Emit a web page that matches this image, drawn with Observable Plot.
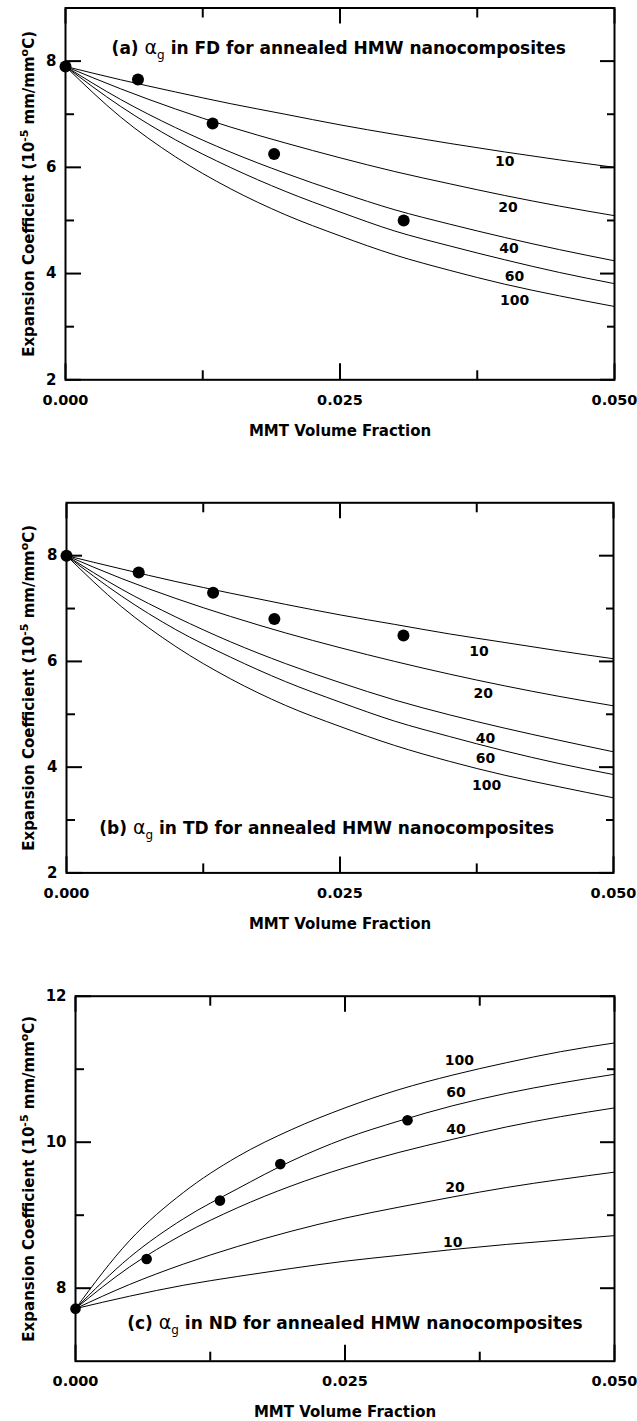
<!DOCTYPE html>
<html><head><meta charset="utf-8">
<script src="https://cdn.jsdelivr.net/npm/d3@7"></script>
<script src="https://cdn.jsdelivr.net/npm/@observablehq/plot@0.6"></script>
<style>
html,body{margin:0;padding:0;background:#fff;}
#chart{width:637px;}
#chart svg{display:block;}
</style></head><body><div id="chart"></div>
<script>
// ---- data ----
const volumeFraction = [0, 0.005, 0.01, 0.015, 0.02, 0.025, 0.03, 0.035, 0.04, 0.045, 0.05];
const aspectRatios = [10, 20, 40, 60, 100];

const fd10  = [7.9, 7.65, 7.42, 7.20, 7.00, 6.80, 6.62, 6.45, 6.29, 6.14, 6.00];
const fd20  = [7.9, 7.48, 7.10, 6.76, 6.46, 6.18, 5.92, 5.69, 5.47, 5.27, 5.09];
const fd40  = [7.9, 7.28, 6.75, 6.29, 5.89, 5.53, 5.20, 4.93, 4.68, 4.45, 4.24];
const fd60  = [7.9, 7.15, 6.52, 6.00, 5.55, 5.16, 4.80, 4.52, 4.26, 4.02, 3.81];
const fd100 = [7.9, 6.95, 6.20, 5.60, 5.11, 4.71, 4.35, 4.06, 3.80, 3.58, 3.38];

const td10  = [8.0, 7.75, 7.51, 7.29, 7.08, 6.88, 6.70, 6.52, 6.36, 6.20, 6.05];
const td20  = [8.0, 7.57, 7.19, 6.85, 6.54, 6.26, 6.00, 5.76, 5.54, 5.34, 5.16];
const td40  = [8.0, 7.37, 6.84, 6.37, 5.96, 5.60, 5.27, 4.99, 4.74, 4.51, 4.29];
const td60  = [8.0, 7.24, 6.60, 6.08, 5.62, 5.23, 4.87, 4.58, 4.31, 4.07, 3.86];
const td100 = [8.0, 7.04, 6.28, 5.67, 5.17, 4.77, 4.41, 4.11, 3.85, 3.63, 3.42];

const nd10  = [7.72, 7.89, 8.04, 8.16, 8.27, 8.37, 8.45, 8.53, 8.60, 8.66, 8.72];
const nd20  = [7.72, 8.05, 8.33, 8.57, 8.78, 8.96, 9.11, 9.25, 9.38, 9.49, 9.59];
const nd40  = [7.72, 8.29, 8.74, 9.10, 9.40, 9.65, 9.86, 10.04, 10.21, 10.35, 10.47];
const nd60  = [7.72, 8.42, 8.95, 9.36, 9.74, 10.05, 10.29, 10.50, 10.67, 10.81, 10.93];
const nd100 = [7.72, 8.65, 9.31, 9.80, 10.17, 10.47, 10.72, 10.92, 11.09, 11.24, 11.36];

const pointX   = [0, 0.0066, 0.0134, 0.019, 0.0308];
const fdPoints = [7.9, 7.655, 6.825, 6.25, 5.0];
const tdPoints = [8.0, 7.68, 7.30, 6.80, 6.49];
const ndPoints = [7.72, 8.40, 9.20, 9.70, 10.30];

const fdLabelX = [0.0400, 0.0403, 0.0404, 0.0409, 0.0409];
const fdLabelY = [6.115, 5.24, 4.48, 3.95, 3.49];
const tdLabelX = [0.0377, 0.0381, 0.0383, 0.0383, 0.0384];
const tdLabelY = [6.19, 5.39, 4.55, 4.16, 3.65];
const ndLabelX = [0.0350, 0.0352, 0.0353, 0.0353, 0.0356];
const ndLabelY = [8.62, 9.38, 10.18, 10.68, 11.12];

const xMajorTicks = [0, 0.025, 0.05];
const xMinorTicks = [0.0125, 0.0375];
const fdYMajor = [2, 4, 6, 8], fdYMinor = [3, 5, 7];
const ndYMajor = [8, 10, 12], ndYMinor = [9, 11];

const xTitle = "MMT Volume Fraction";
const yTitleParts = ["Expansion Coefficient (10", "-5", " mm/mm", "o", "C)"];
const annoA = ["(a) ", "\u03b1", "g", " in FD for annealed HMW nanocomposites"];
const annoB = ["(b) ", "\u03b1", "g", " in TD for annealed HMW nanocomposites"];
const annoC = ["(c) ", "\u03b1", "g", " in ND for annealed HMW nanocomposites"];

// ---- drawing ----
const SVGNS = "http://www.w3.org/2000/svg";
function rich(svg, plain, parts) {
  const t = Array.from(svg.querySelectorAll("text")).find(e => e.textContent === plain);
  if (!t) return;
  while (t.firstChild) t.removeChild(t.firstChild);
  for (const p of parts) {
    const s = document.createElementNS(SVGNS, "tspan");
    s.textContent = p.t;
    if (p.size) s.setAttribute("font-size", p.size);
    if (p.weight) s.setAttribute("font-weight", p.weight);
    if (p.dy) s.setAttribute("dy", p.dy);
    t.appendChild(s);
  }
}

function panel(cfg) {
  const rows = [];
  cfg.curves.forEach((ys, j) => ys.forEach((y, i) => rows.push({x: volumeFraction[i], y, k: aspectRatios[j]})));
  const pts = pointX.map((x, i) => ({x, y: cfg.points[i]}));
  const labs = aspectRatios.map((k, i) => ({x: cfg.labelX[i], y: cfg.labelY[i], t: String(k)}));
  const tickOpts = {strokeWidth: 2, fill: "none", label: null};
  const yTitle = yTitleParts.join("");
  const anno = cfg.anno.join("");
  const plot = Plot.plot({
    width: 637, height: cfg.height,
    marginLeft: cfg.ml, marginRight: cfg.mr, marginTop: cfg.mt, marginBottom: cfg.mb,
    x: {domain: [0, 0.05], label: null},
    y: {domain: cfg.yDomain, label: null},
    style: {fontFamily: "'DejaVu Sans', sans-serif", fontWeight: "bold", fontSize: "15px", color: "black", background: "white", overflow: "visible"},
    marks: [
      Plot.line(rows, {x: "x", y: "y", z: "k", stroke: "black", strokeWidth: 1, curve: "monotone-x"}),
      Plot.dot(pts, {x: "x", y: "y", r: cfg.r, fill: "black"}),
      Plot.text(labs, {x: "x", y: "y", text: "t", fontSize: 14}),
      Plot.frame({stroke: "black", strokeWidth: 2}),
      Plot.axisX(xMajorTicks, {anchor: "bottom", tickSize: -16, ...tickOpts}),
      Plot.axisX(xMinorTicks, {anchor: "bottom", tickSize: -9, ...tickOpts}),
      Plot.axisX(xMajorTicks, {anchor: "top", tickSize: -15, ...tickOpts}),
      Plot.axisX(xMinorTicks, {anchor: "top", tickSize: -9, ...tickOpts}),
      Plot.axisY(cfg.yMajor, {anchor: "left", tickSize: -16, ...tickOpts}),
      Plot.axisY(cfg.yMinor, {anchor: "left", tickSize: -9, ...tickOpts}),
      Plot.axisY(cfg.yMajor, {anchor: "right", tickSize: -15, ...tickOpts}),
      Plot.axisY(cfg.yMinor, {anchor: "right", tickSize: -8, ...tickOpts}),
      Plot.axisX(xMajorTicks, {anchor: "bottom", tickSize: 0, tickPadding: 15, tickFormat: d3.format(".3f"), label: null, fontSize: 14.5}),
      Plot.axisY(cfg.yMajor, {anchor: "left", tickSize: 0, tickPadding: 9, tickFormat: d => String(d), label: null, fontSize: 15}),
      Plot.text([xTitle], {text: d => d, frameAnchor: "bottom", dy: 51, lineAnchor: "middle", textAnchor: "middle", fontSize: 15}),
      Plot.text([yTitle], {text: d => d, frameAnchor: "left", dx: 28.5 - cfg.ml, rotate: -90, textAnchor: "middle", lineAnchor: "middle", fontSize: 15}),
      Plot.text([anno], {text: d => d, x: () => cfg.annoX, y: () => cfg.annoY, textAnchor: "start", lineAnchor: "middle", fontSize: 17})
    ]
  });
  rich(plot, yTitle, [
    {t: yTitleParts[0]}, {t: yTitleParts[1], size: 11, dy: -6}, {t: yTitleParts[2], dy: 6},
    {t: yTitleParts[3], size: 11, dy: -6}, {t: yTitleParts[4], dy: 6}
  ]);
  rich(plot, anno, [
    {t: cfg.anno[0]}, {t: cfg.anno[1], size: 19, weight: "normal"},
    {t: cfg.anno[2], size: 12, weight: "normal", dy: 5}, {t: cfg.anno[3], dy: -5}
  ]);
  return plot;
}

const chart = document.getElementById("chart");
chart.appendChild(panel({
  height: 468, ml: 65, mr: 23, mt: 7.5, mb: 88.7, yDomain: [2, 9],
  yMajor: fdYMajor, yMinor: fdYMinor, curves: [fd10, fd20, fd40, fd60, fd100],
  points: fdPoints, labelX: fdLabelX, labelY: fdLabelY, r: 6,
  anno: annoA, annoX: 0.0042, annoY: 8.24
}));
chart.appendChild(panel({
  height: 477, ml: 66, mr: 24, mt: 34.3, mb: 72.6, yDomain: [2, 9],
  yMajor: fdYMajor, yMinor: fdYMinor, curves: [td10, td20, td40, td60, td100],
  points: tdPoints, labelX: tdLabelX, labelY: tdLabelY, r: 6,
  anno: annoB, annoX: 0.0030, annoY: 2.83
}));
chart.appendChild(panel({
  height: 476, ml: 75, mr: 23, mt: 50.7, mb: 60.3, yDomain: [7, 12],
  yMajor: ndYMajor, yMinor: ndYMinor, curves: [nd10, nd20, nd40, nd60, nd100],
  points: ndPoints, labelX: ndLabelX, labelY: ndLabelY, r: 5.3,
  anno: annoC, annoX: 0.0048, annoY: 7.51
}));
</script>
</body></html>
